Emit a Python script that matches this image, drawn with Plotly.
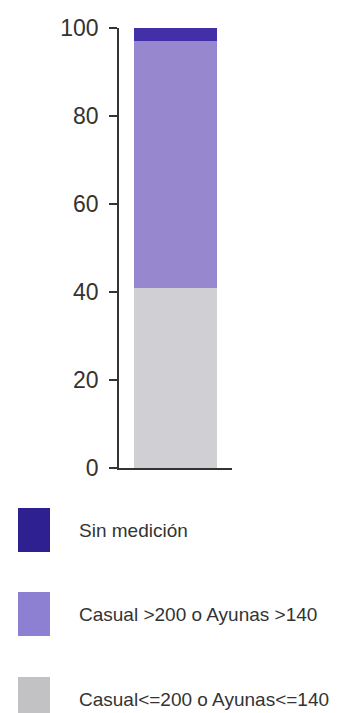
import plotly.graph_objects as go

# Stacked composition of glucose measurement results (%)
categories = [""]
series_names = ["Casual<=200 o Ayunas<=140", "Casual >200 o Ayunas >140", "Sin medición"]
series_values = [[41], [56], [3]]
bar_colors = ["#cfcfd4", "#9787cf", "#4330a8"]
legend_colors = ["#c2c2c4", "#8d80d2", "#2e2090"]
tick_values = [0, 20, 40, 60, 80, 100]

W, H = 351, 713
L, R, T, B = 119, 119, 28, 245
plot_w = W - L - R
plot_h = H - T - B

FONT = "Liberation Sans, Arial, sans-serif"

fig = go.Figure()
for name, vals, col in zip(series_names, series_values, bar_colors):
    fig.add_trace(go.Bar(x=categories, y=vals, name=name, marker=dict(color=col, line=dict(width=0)),
                         width=0.73, showlegend=False))


def px_x(px):
    return (px - L) / plot_w


def px_y(py):
    return (H - B - py) / plot_h


# Legend drawn as large swatches with labels beneath the chart (top entry first)
shapes, annotations = [], []
legend_rows = [530, 614, 699]
for row_y, name, col in zip(legend_rows, reversed(series_names), reversed(legend_colors)):
    shapes.append(dict(type="rect", xref="paper", yref="paper",
                       x0=px_x(18), x1=px_x(50), y0=px_y(row_y - 22), y1=px_y(row_y + 22),
                       fillcolor=col, line=dict(width=0), layer="above"))
    annotations.append(dict(xref="paper", yref="paper", x=px_x(77), y=px_y(row_y),
                            text=name, showarrow=False, xanchor="left", yanchor="middle",
                            font=dict(family=FONT, size=19, color="#333333")))

fig.update_layout(
    barmode="stack",
    width=W, height=H,
    margin=dict(l=L, r=R, t=T, b=B),
    paper_bgcolor="white", plot_bgcolor="white",
    bargap=0.27,
    xaxis=dict(showline=True, linecolor="#333333", linewidth=1.5, showticklabels=False,
               ticks="", showgrid=False, zeroline=False, fixedrange=True),
    yaxis=dict(range=[0, 100], tickvals=tick_values, showline=True, linecolor="#333333",
               linewidth=1.5, ticks="outside", ticklen=8, tickwidth=1.5, tickcolor="#333333",
               showgrid=False, zeroline=False, ticklabelstandoff=6,
               tickfont=dict(family=FONT, size=23, color="#333333")),
    shapes=shapes,
    annotations=annotations,
    showlegend=False,
)

fig.write_html("out.html")
